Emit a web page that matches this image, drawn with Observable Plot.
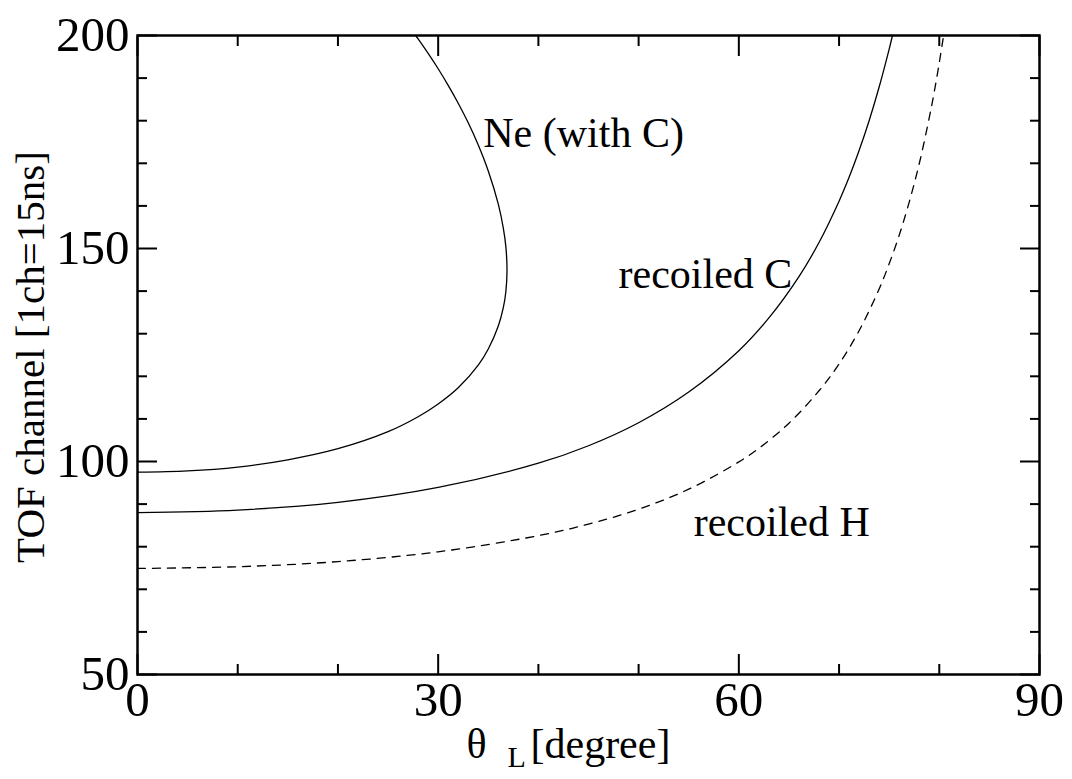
<!DOCTYPE html>
<html>
<head>
<meta charset="utf-8">
<script src="https://cdn.jsdelivr.net/npm/d3@7"></script>
<script src="https://cdn.jsdelivr.net/npm/@observablehq/plot@0.6"></script>
<style>html,body{margin:0;padding:0;background:#fff;}</style>
</head>
<body>
<div id="chart"></div>
<script>
// Ne scattered on C (two kinematic branches)
const neTheta = [0,5,10,15,20,25,28,30,32,34,35,36,36.5,36.75,36.87,36.75,36.5,36,35,34,33,32,31,30,29,28,27.75];
const neTof   = [97.5,97.8,98.7,100.4,103.0,107.0,110.5,113.5,117.3,122.6,126.4,131.8,136.1,139.8,145.0,150.5,154.8,160.4,168.2,174.3,179.5,184.1,188.3,192.2,195.8,199.2,200.0];
// recoiled C
const cTheta = [0,10,20,30,40,45,50,55,60,63,66,68,70,71,72,73,74,75,75.33];
const cTof   = [88.0,88.6,90.4,93.9,99.6,103.7,109.1,116.3,126.0,133.7,143.4,151.4,161.1,166.7,173.0,180.0,187.9,196.8,200.0];
// recoiled H (dashed)
const hTheta = [0,10,20,30,40,45,50,55,60,62,65,68,70,72,74,75,76,77,78,79,79.5,80,80.43];
const hTof   = [74.9,75.3,76.5,78.8,82.6,85.3,88.8,93.5,99.9,103.1,109.0,116.6,122.9,130.7,140.5,146.4,153.1,160.9,169.9,180.7,186.8,193.6,200.0];

// curve labels
const labelText  = ["Ne (with C)", "recoiled C", "recoiled H"];
const labelTheta = [34.5, 48.0, 55.5];
const labelTof   = [173.9, 140.8, 82.6];

// ticks
const xMajor = [0, 30, 60, 90];
const xMinor = [10, 20, 40, 50, 70, 80];
const yMajor = [50, 100, 150, 200];
const yMinor = [60, 70, 80, 90, 110, 120, 130, 140, 160, 170, 180, 190];

const toRows = (th, tof) => th.map((t, i) => ({theta: t, tof: tof[i]}));
const neData = toRows(neTheta, neTof);
const cData = toRows(cTheta, cTof);
const hData = toRows(hTheta, hTof);
const labels = labelText.map((s, i) => ({label: s, theta: labelTheta[i], tof: labelTof[i]}));

const tickStyle = {fill: "none", stroke: "#000", strokeWidth: 2, label: null};
const fmt = d => String(d);

const chart = Plot.plot({
  width: 1072,
  height: 779,
  marginLeft: 137,
  marginRight: 33,
  marginTop: 35,
  marginBottom: 105,
  style: {fontFamily: "'Liberation Serif', 'Times New Roman', serif", background: "#fff", color: "#000"},
  x: {domain: [0, 90]},
  y: {domain: [50, 200]},
  marks: [
    Plot.line(neData, {x: "theta", y: "tof", stroke: "#000", strokeWidth: 1.3, curve: "catmull-rom", clip: true}),
    Plot.line(cData, {x: "theta", y: "tof", stroke: "#000", strokeWidth: 1.3, curve: "catmull-rom", clip: true}),
    Plot.line(hData, {x: "theta", y: "tof", stroke: "#000", strokeWidth: 1.3, strokeDasharray: "8,7", curve: "catmull-rom", clip: true}),
    Plot.text(labels, {x: "theta", y: "tof", text: "label", textAnchor: "start", lineAnchor: "bottom", fontSize: 42, fill: "#000"}),
    // inward ticks on all four sides
    Plot.axisX(xMajor, {anchor: "bottom", tickSize: -20, ...tickStyle}),
    Plot.axisX(xMinor, {anchor: "bottom", tickSize: -10, ...tickStyle}),
    Plot.axisX(xMajor, {anchor: "top", tickSize: -20, ...tickStyle}),
    Plot.axisX(xMinor, {anchor: "top", tickSize: -10, ...tickStyle}),
    Plot.axisY(yMajor, {anchor: "left", tickSize: -20, ...tickStyle}),
    Plot.axisY(yMinor, {anchor: "left", tickSize: -10, ...tickStyle}),
    Plot.axisY(yMajor, {anchor: "right", tickSize: -20, ...tickStyle}),
    Plot.axisY(yMinor, {anchor: "right", tickSize: -10, ...tickStyle}),
    // tick labels
    Plot.axisX(xMajor, {anchor: "bottom", tickSize: 0, tickPadding: 7, fontSize: 49, fill: "#000", tickFormat: fmt, label: null}),
    Plot.axisY(yMajor, {anchor: "left", tickSize: 0, tickPadding: 8, fontSize: 49, fill: "#000", tickFormat: fmt, label: null}),
    // axis titles
    Plot.text(["TOF channel [1ch=15ns]"], {frameAnchor: "left", rotate: -90, dx: -107, dy: 2, fontSize: 41, fill: "#000", textAnchor: "middle", lineAnchor: "middle"}),
    Plot.text(["θ"], {frameAnchor: "bottom-left", dx: 329, dy: 83, textAnchor: "start", lineAnchor: "bottom", fontSize: 42, fill: "#000"}),
    Plot.text(["L"], {frameAnchor: "bottom-left", dx: 370, dy: 92, textAnchor: "start", lineAnchor: "bottom", fontSize: 30, fill: "#000"}),
    Plot.text(["[degree]"], {frameAnchor: "bottom-left", dx: 393, dy: 83, textAnchor: "start", lineAnchor: "bottom", fontSize: 42, fill: "#000"}),
    Plot.frame({stroke: "#000", strokeWidth: 2.5})
  ]
});
document.getElementById("chart").appendChild(chart);
</script>
</body>
</html>
